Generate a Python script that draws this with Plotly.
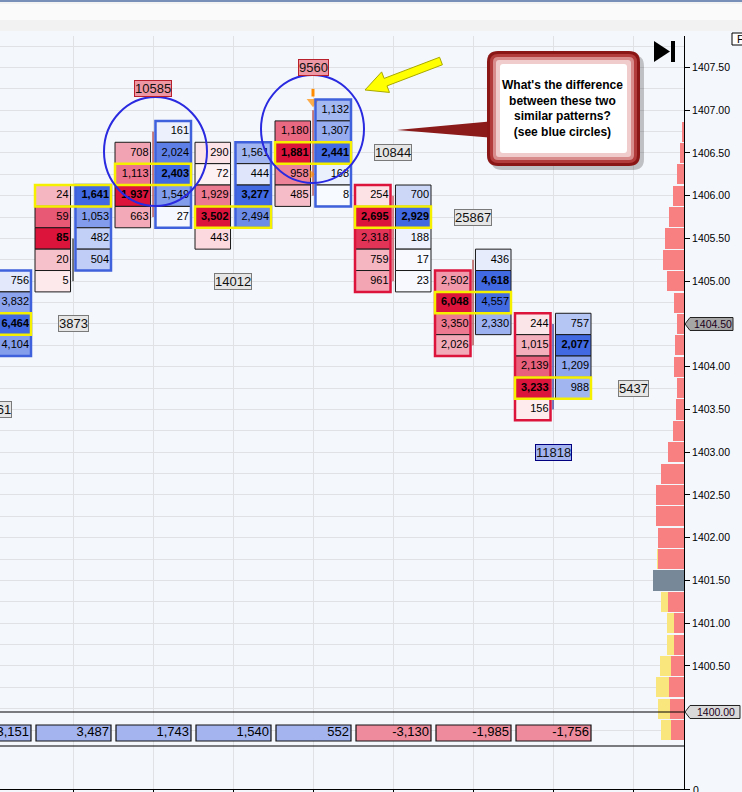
import plotly.graph_objects as go

# footprint bars (x = bar slot); each column lists its cells from its top price downward
bar_pos = [0, 1, 2, 3, 4, 5, 6, 7]
bid_top = [None, 1406.00, 1406.50, 1406.50, 1406.75, 1406.00, 1405.00, 1404.50]
bid_vals = [[], [24, 59, 85, 20, 5], [708, 1113, 1937, 663], [290, 72, 1929, 3502, 443],
            [1180, 1881, 958, 485], [254, 2695, 2318, 759, 961], [2502, 6048, 3350, 2026],
            [244, 1015, 2139, 3233, 156]]
ask_top = [1405.00, 1406.00, 1406.75, 1406.50, 1407.00, 1406.00, 1405.25, 1404.50]
ask_vals = [[756, 3832, 6464, 4104], [1641, 1053, 482, 504], [161, 2024, 2403, 1549, 27],
            [1561, 444, 3277, 2494], [1132, 1307, 2441, 168, 8], [700, 2929, 188, 17, 23],
            [436, 4618, 4557, 2330], [757, 2077, 1209, 988]]
delta_vals = [3151, 3487, 1743, 1540, 552, -3130, -1985, -1756]

wick_top = [None, 1405.50, 1406.75, None, 1407.00, 1406.00, 1405.25, 1404.50]
wick_bot = [None, 1405.00, 1405.75, None, 1406.00, 1405.00, 1404.25, 1403.50]
wick_col = [None, "#000000", "#a01010", None, "#a01010", "#c01020", "#a01010", "#000080"]

# bar volume labels
vol_x = [0, 1, 2, 3, 4, 5, 6, 7, 8]
vol_y = [1403.50, 1404.50, 1407.25, 1405.00, 1407.50, 1406.50, 1405.75, 1403.00, 1403.75]
vol_text = ["13661", "3873", "10585", "14012", "9560", "10844", "25867", "11818", "5437"]
vol_kind = ["gray", "gray", "red", "gray", "red", "gray", "gray", "blue", "gray"]

# volume profile on the price axis
prof_price = [1406.75, 1406.50, 1406.25, 1406.00, 1405.75, 1405.50, 1405.25, 1405.00,
              1404.75, 1404.50, 1404.25, 1404.00, 1403.75, 1403.50, 1403.25, 1403.00,
              1402.75, 1402.50, 1402.25, 1402.00, 1401.75, 1401.50, 1401.25, 1401.00,
              1400.75, 1400.50, 1400.25, 1400.00, 1399.75]
prof_red = [380, 1000, 1750, 2750, 3750, 4750, 5250, 4250, 2500, 1750, 2250, 2500, 1750,
            2000, 2750, 4000, 5750, 7000, 7000, 6500, 6500, 7750, 4000, 2500, 2500, 3250,
            3750, 3500, 3250]
prof_yellow = [0, 0, 0, 0, 0, 0, 0, 0, 0, 0, 0, 0, 0, 0, 0, 0, 0, 0, 0, 0, 250, 0,
               1750, 1750, 1750, 2750, 3250, 3000, 2500]
prof_poc = 1401.50

price_ticks = [1400.5, 1401.0, 1401.5, 1402.0, 1402.5, 1403.0, 1403.5, 1404.0,
               1405.0, 1405.5, 1406.0, 1406.5, 1407.0, 1407.5]
last_price = "1404.50"
line_price = "1400.00"

FONT = "Liberation Sans, Arial, sans-serif"
BG = "#f4f7fc"
GRID = "#dfe1e5"

# plot area in pixels
PL, PR, PT, PB = 0, 684, 36, 789
YMIN, YMAX = 1399.564, 1407.868
MAIN_BOT = 746


def px_x(px):
    return (px - PL) / (PR - PL)


def px_y(py):
    return (PB - py) / (PB - PT)


def px_price(py):
    return YMIN + (MAIN_BOT - py) / (MAIN_BOT - PT) * (YMAX - YMIN)


def P(x, y):
    return f"{px_x(x):.5f},{px_y(y):.5f}"


def rrect(x0, y0, x1, y1, r):
    return (f"M {P(x0 + r, y0)} L {P(x1 - r, y0)} Q {P(x1, y0)} {P(x1, y0 + r)} "
            f"L {P(x1, y1 - r)} Q {P(x1, y1)} {P(x1 - r, y1)} L {P(x0 + r, y1)} "
            f"Q {P(x0, y1)} {P(x0, y1 - r)} L {P(x0, y0 + r)} Q {P(x0, y0)} {P(x0 + r, y0)} Z")


def mix(c0, c1, t):
    t = max(0.0, min(1.0, t))
    return "#%02x%02x%02x" % tuple(round(a + (b - a) * t) for a, b in zip(c0, c1))


RED0, RED1 = (255, 246, 247), (220, 20, 60)
BLUE0, BLUE1 = (248, 250, 255), (65, 105, 225)
H = 0.125

shapes = []
tx, ty, tt = [], [], []

for i, x in enumerate(bar_pos):
    cols = [(bid_top[i], bid_vals[i], x - 0.475, x - 0.031, RED0, RED1),
            (ask_top[i], ask_vals[i], x + 0.031, x + 0.475, BLUE0, BLUE1)]
    rows = {}
    for top, vals, x0, x1, c0, c1 in cols:
        if not vals:
            continue
        vmax = max(vals)
        for k, v in enumerate(vals):
            p = top - 0.25 * k
            rows[p] = rows.get(p, 0) + v
            shapes.append(dict(type="rect", xref="x", yref="y", x0=x0, x1=x1, y0=p - H, y1=p + H,
                               fillcolor=mix(c0, c1, v / vmax), line=dict(color="#1a1a1a", width=1),
                               layer="between"))
            tx.append(x1 - 0.025)
            ty.append(p)
            tt.append(f"<b>{v:,}</b>" if v == vmax else f"{v:,}")
    # outline of the dominant side
    top, vals, x0, x1 = (ask_top[i], ask_vals[i], x + 0.031, x + 0.475) if delta_vals[i] > 0 else \
        (bid_top[i], bid_vals[i], x - 0.475, x - 0.031)
    col = "#3f62dc" if delta_vals[i] > 0 else "#dc143c"
    shapes.append(dict(type="rect", xref="x", yref="y", x0=x0, x1=x1,
                       y0=top - 0.25 * (len(vals) - 1) - H, y1=top + H,
                       line=dict(color=col, width=2.5), layer="above"))
    poc = max(rows, key=rows.get)
    shapes.append(dict(type="rect", xref="x", yref="y", x0=x - 0.475, x1=x + 0.475,
                       y0=poc - H, y1=poc + H, line=dict(color="#f5f000", width=2.5), layer="above"))
    # delta row
    shapes.append(dict(type="rect", xref="x", yref="y", x0=x - 0.4625, x1=x + 0.475,
                       y0=px_price(741), y1=px_price(725),
                       fillcolor="#a3b4ee" if delta_vals[i] > 0 else "#ee8c9e",
                       line=dict(color="#111111", width=1.2), layer="between"))

fig = go.Figure()

# wicks between columns
for i, x in enumerate(bar_pos):
    if wick_top[i] is None:
        continue
    fig.add_trace(go.Scatter(x=[x, x], y=[wick_top[i], wick_bot[i]], mode="lines",
                             line=dict(color=wick_col[i], width=1), hoverinfo="skip"))

fig.add_trace(go.Scatter(x=tx, y=ty, text=tt, mode="text", textposition="middle left",
                         textfont=dict(family=FONT, size=11, color="#000000"), hoverinfo="skip"))

fig.add_trace(go.Scatter(x=[b + 0.45 for b in bar_pos], y=[px_price(733)] * len(bar_pos),
                         text=[f"{d:,}" for d in delta_vals], mode="text", textposition="middle left",
                         textfont=dict(family=FONT, size=13, color="#000000"), hoverinfo="skip"))

# orange markers on bar 4
fig.add_trace(go.Scatter(x=[4, 4], y=[1407.16, 1407.25], mode="lines",
                         line=dict(color="#ff8c00", width=3), hoverinfo="skip"))
fig.add_trace(go.Scatter(x=[4, 3.98], y=[1407.1, 1406.25], mode="markers",
                         marker=dict(symbol=["triangle-down", "triangle-right"], size=[11, 8],
                                     color="#ff8c00", line=dict(width=0)), hoverinfo="skip"))

# volume profile
fig.add_trace(go.Bar(x=prof_red, y=prof_price, orientation="h", xaxis="x2", yaxis="y", width=0.235,
                     marker=dict(color=["#778899" if p == prof_poc else "#f88080" for p in prof_price],
                                 line=dict(width=0)), hoverinfo="skip"))
fig.add_trace(go.Bar(x=prof_yellow, y=prof_price, orientation="h", xaxis="x2", yaxis="y", width=0.235,
                     marker=dict(color="#f9e67c", line=dict(width=0)), hoverinfo="skip"))
fig.add_trace(go.Scatter(x=[1], y=[0.5], xaxis="x", yaxis="y2", mode="markers",
                         marker=dict(opacity=0), hoverinfo="skip"))

# bar volume labels
styles = {"gray": ("#e6e6e6", "#7a7a7a"), "red": ("#ec97a3", "#b8202c"), "blue": ("#a3b4ee", "#000080")}
annotations = []
for x, y, t, k in zip(vol_x, vol_y, vol_text, vol_kind):
    fill, border = styles[k]
    anchor = "center"
    if x == 0:
        x, anchor = x + 0.24, "right"
    annotations.append(dict(x=x, y=y, xref="x", yref="y", text=t, showarrow=False,
                            xanchor=anchor, yanchor="middle",
                            font=dict(family=FONT, size=13, color="#111111"), bgcolor=fill,
                            bordercolor=border, borderwidth=1, borderpad=0))

# panel lines
shapes += [
    dict(type="line", xref="paper", yref="paper", x0=0, x1=1, y0=px_y(712), y1=px_y(712),
         line=dict(color="#000000", width=1.2)),
    dict(type="line", xref="paper", yref="paper", x0=0, x1=1, y0=px_y(746), y1=px_y(746),
         line=dict(color="#000000", width=1.2)),
]

# blue circles
for cx, cy, rx, ry in [(155.5, 151.5, 51.5, 54.5), (312.5, 129, 51.5, 54)]:
    shapes.append(dict(type="circle", xref="paper", yref="paper", x0=px_x(cx - rx), x1=px_x(cx + rx),
                       y0=px_y(cy + ry), y1=px_y(cy - ry), line=dict(color="#2a2ae0", width=2)))

# callout
shapes.append(dict(type="path", xref="paper", yref="paper",
                   path=f"M {P(397, 130)} L {P(495, 121)} L {P(495, 138)} Z",
                   fillcolor="#8b1a1a", line=dict(width=0)))
shapes.append(dict(type="path", xref="paper", yref="paper", path=rrect(491, 55, 644, 170, 11),
                   fillcolor="rgba(0,0,0,0.22)", line=dict(width=0)))
for inset, col in [(0, "#8b1616"), (3, "#b23c3c"), (6, "#d88c8c"), (9, "#f1cccc"), (13, "#ffffff")]:
    shapes.append(dict(type="path", xref="paper", yref="paper",
                       path=rrect(487 + inset, 51 + inset, 640 - inset, 166 - inset, max(11 - inset, 3)),
                       fillcolor=col, line=dict(width=0)))
annotations.append(dict(xref="paper", yref="paper", x=px_x(562), y=px_y(108), showarrow=False,
                        xanchor="center", yanchor="middle",
                        text="<b>What's the difference<br>between these two<br>similar patterns?<br>"
                             "(see blue circles)</b>",
                        font=dict(family=FONT, size=12, color="#000000"), align="center"))

# yellow arrow
sx, sy, ex, ey = 441, 61, 365, 90
L = ((ex - sx) ** 2 + (ey - sy) ** 2) ** 0.5
ux, uy = (ex - sx) / L, (ey - sy) / L
nx, ny = -uy, ux
bx, by = ex - ux * 22, ey - uy * 22
pts = [(sx + nx * 4, sy + ny * 4), (bx + nx * 4, by + ny * 4), (bx + nx * 11, by + ny * 11), (ex, ey),
       (bx - nx * 11, by - ny * 11), (bx - nx * 4, by - ny * 4), (sx - nx * 4, sy - ny * 4)]
shapes.append(dict(type="path", xref="paper", yref="paper",
                   path="M " + " L ".join(P(a, b) for a, b in pts) + " Z",
                   fillcolor="#ffff00", line=dict(color="#a8a800", width=1)))

# top strip and chart icons
shapes += [
    dict(type="rect", xref="paper", yref="paper", x0=-0.01, x1=1.1, y0=px_y(31), y1=px_y(0),
         fillcolor="#f2f2f2", line=dict(width=0)),
    dict(type="rect", xref="paper", yref="paper", x0=-0.01, x1=1.1, y0=px_y(20), y1=px_y(4),
         fillcolor="#fafafa", line=dict(width=0)),
    dict(type="line", xref="paper", yref="paper", x0=-0.01, x1=1.1, y0=px_y(1), y1=px_y(1),
         line=dict(color="#7890b8", width=2)),
    dict(type="path", xref="paper", yref="paper", path=f"M {P(654, 41)} L {P(654, 62)} L {P(670, 51.5)} Z",
         fillcolor="#000000", line=dict(width=0)),
    dict(type="rect", xref="paper", yref="paper", x0=px_x(671), x1=px_x(675), y0=px_y(62), y1=px_y(41),
         fillcolor="#000000", line=dict(width=0)),
    dict(type="rect", xref="paper", yref="paper", x0=px_x(732), x1=px_x(748), y0=px_y(45), y1=px_y(33),
         fillcolor="#ffffff", line=dict(color="#000000", width=1)),
]
annotations.append(dict(xref="paper", yref="paper", x=px_x(735), y=px_y(39), xanchor="left",
                        yanchor="middle", showarrow=False, text="F",
                        font=dict(family=FONT, size=11, color="#000000")))
annotations.append(dict(xref="paper", yref="paper", x=px_x(691), y=px_y(790), xanchor="left",
                        yanchor="middle", showarrow=False, text="0",
                        font=dict(family=FONT, size=10.5, color="#000000")))

# price markers on the axis
for label, py, fill, x1 in [(last_price, 324, "#a6a6a6", 733), (line_price, 712, "#d9d9d9", 740)]:
    shapes.append(dict(type="path", xref="paper", yref="paper",
                       path=f"M {P(685, py)} L {P(690, py - 6.5)} L {P(x1, py - 6.5)} "
                            f"L {P(x1, py + 6.5)} L {P(690, py + 6.5)} Z",
                       fillcolor=fill, line=dict(color="#222222", width=1)))
    annotations.append(dict(xref="paper", yref="paper", x=px_x((690 + x1) / 2 + 1), y=px_y(py),
                            xanchor="center", yanchor="middle", showarrow=False, text=label,
                            font=dict(family=FONT, size=10.5, color="#200020")))

fig.update_layout(
    width=742, height=792,
    margin=dict(l=PL, r=742 - PR, t=PT, b=792 - PB),
    paper_bgcolor=BG, plot_bgcolor=BG,
    showlegend=False, barmode="stack", hovermode=False,
    shapes=shapes, annotations=annotations,
    xaxis=dict(domain=[0, 1], range=[0.0875, 8.6375], anchor="y2", tickvals=list(range(0, 9)),
               showticklabels=False, ticks="outside", ticklen=4, tickcolor="#000000",
               showgrid=True, gridcolor=GRID, gridwidth=1, showline=True, linecolor="#000000",
               zeroline=False, fixedrange=True),
    xaxis2=dict(overlaying="x", anchor="y", range=[171000, 0], visible=False, fixedrange=True),
    yaxis=dict(domain=[px_y(MAIN_BOT), 1], range=[YMIN, YMAX], side="right", anchor="x",
               tickvals=price_ticks, ticktext=[f"{v:.2f}" for v in price_ticks],
               ticks="outside", ticklen=5, tickcolor="#000000",
               tickfont=dict(family=FONT, size=10.5, color="#000000"),
               showgrid=True, gridcolor=GRID,
               minor=dict(tickmode="linear", tick0=1400, dtick=0.25, showgrid=True, gridcolor=GRID, ticks=""),
               showline=True, linecolor="#000000", zeroline=False, fixedrange=True),
    yaxis2=dict(domain=[0, px_y(MAIN_BOT)], range=[0, 1], side="right", anchor="x",
                tickvals=[0], showticklabels=False, ticks="outside", ticklen=5, tickcolor="#000000",
                showgrid=False, showline=True, linecolor="#000000", zeroline=False, fixedrange=True),
)

fig.write_html("out.html", config={"displayModeBar": False},
               post_script="document.body.style.margin='0';")
